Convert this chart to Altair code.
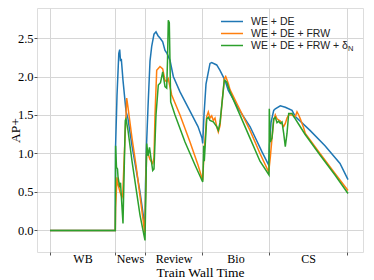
import altair as alt
import pandas as pd

# ---- data (x in "wall time" units, y = AP+) ----
series_names = ["WE + DE", "WE + DE + FRW", "WE + DE + FRW + δ"]
colors = ["#1f77b4", "#ff7f0e", "#2ca02c"]

domains = ["WB", "News", "Review", "Bio", "CS"]
boundaries = [0, 65, 95, 152, 219, 297]

blue_x = [0, 65.3, 65.6, 67, 68.8, 69.7, 70.5, 71.3, 73, 76, 78, 82, 86, 90, 94, 95,
          95.5, 96.5, 98, 100, 101.7, 104, 106, 108, 110, 112.7, 115, 117, 120, 123.3, 130, 140, 148, 152, 152.7,
          154, 156, 160, 161.7, 166.7, 170, 175, 178.3, 190, 200, 212, 218.7,
          219.5, 221, 223.7, 225.3, 230.3, 235.3, 242, 245.3, 260, 275, 290, 298]
blue_y = [0, 0, 1.1, 1.75, 2.3, 2.35, 2.2, 2.23, 1.95, 1.55, 1.45, 1.1, 0.8, 0.5, 0.13, 0.06,
          0.6, 1.1, 1.6, 2.2, 2.39, 2.55, 2.58, 2.53, 2.5, 2.45, 2.34, 2.3, 2.21, 2.0, 1.8, 1.55, 1.35, 1.2, 1.13,
          1.5, 1.9, 2.17, 2.18, 2.15, 2.08, 1.95, 1.82, 1.55, 1.35, 1.02, 0.85,
          1.1, 1.4, 1.56, 1.58, 1.62, 1.60, 1.56, 1.48, 1.3, 1.1, 0.87, 0.66]

orange_x = [0, 65.3, 65.6, 67, 68, 70, 72, 72.7, 75, 76.7, 78, 82, 86, 90, 94.7,
            96, 96.7, 98, 100, 102.7, 104, 105, 106.7, 110, 112.7, 115, 116.7, 118.3, 121.7, 130, 140, 148, 152.7,
            154, 156.7, 158.3, 160, 161.7, 163.3, 165, 166.7, 168.3, 170, 172, 174.3, 175.7, 178.3, 180, 200, 210, 218.7,
            220.3, 222, 223.7, 225.3, 227, 230.3, 233.7, 235.3, 237, 238.7, 242, 245.3, 247, 248.7, 250.3, 253.7,
            255.3, 270, 285, 298]
orange_y = [0, 0, 0.3, 0.69, 0.6, 0.5, 0.43, 0.46, 1.2, 1.72, 1.6, 1.2, 0.85, 0.45, -0.03,
            0.7, 1.04, 1.0, 0.92, 0.87, 0.95, 1.5, 2.08, 2.13, 2.1, 1.95, 1.93, 1.97, 1.76, 1.5, 1.15, 0.85, 0.65,
            1.0, 1.48, 1.54, 1.46, 1.49, 1.43, 1.46, 1.35, 1.28, 1.36, 1.65, 1.97, 2.0, 1.91, 1.83, 1.3, 1.0, 0.76,
            0.95, 1.2, 1.43, 1.5, 1.45, 1.42, 1.35, 1.39, 1.46, 1.5, 1.5, 1.48, 1.54, 1.5, 1.45, 1.33,
            1.26, 1.0, 0.74, 0.52]

green_x = [0, 65.3, 65.6, 66.5, 67.5, 68, 69.7, 70.5, 72, 73, 75.3, 76, 78, 82, 86, 90, 95,
           96, 96.7, 98, 99.5, 101.7, 102.7, 104, 106, 108.3, 110.5, 112.7, 115, 116.7, 117.5, 118.3, 119.3, 120.7,
           125, 135, 145, 152.7,
           153.3, 153.7, 154.3, 156.7, 158.3, 160, 163.3, 166.7, 168.3, 170, 174.3, 176.7, 180, 200, 210, 219,
           219.3, 220.3, 222, 223.7, 225.3, 227, 228.7, 230.3, 232, 233.7, 235.3, 237, 238.7, 242, 243.7, 245.3,
           248.7, 255, 270, 285, 298]
green_y = [0, 0, 1.1, 0.82, 0.8, 0.7, 0.56, 0.62, 0.3, 0.09, 1.43, 1.45, 1.3, 0.9, 0.55, 0.2, -0.13,
           0.6, 1.13, 0.97, 1.08, 0.87, 0.78, 0.8, 1.5, 1.89, 1.92, 2.06, 1.87, 1.85, 2.2, 2.73, 2.7, 1.67,
           1.5, 1.15, 0.85, 0.63,
           0.85, 1.1, 0.9, 1.45, 1.47, 1.43, 1.41, 1.35, 1.3, 1.4, 1.95, 1.93, 1.8, 1.2, 0.9, 0.72,
           1.58, 1.15, 1.2, 1.45, 1.47, 1.4, 1.42, 1.39, 1.41, 1.26, 1.09, 1.26, 1.52, 1.52, 1.48, 1.45,
           1.38, 1.25, 0.98, 0.72, 0.48]

rows = []
for name, xs, ys in zip(series_names, [blue_x, orange_x, green_x], [blue_y, orange_y, green_y]):
    for i, (xv, yv) in enumerate(zip(xs, ys)):
        rows.append({"series": name, "x": xv, "y": yv, "order": i})
df = pd.DataFrame(rows)

mids = [(a + b) / 2 for a, b in zip(boundaries[:-1], boundaries[1:])]
label_expr = " : ".join(
    [f"datum.value == {m} ? '{d}'" for m, d in zip(mids, domains)]) + " : ''"
bound_test = "indexof([" + ",".join(str(b) for b in boundaries) + "], datum.value) >= 0"

serif = "Liberation Serif"
sans = "Liberation Sans"

x_axis = alt.Axis(
    values=boundaries + mids,
    labelExpr=label_expr,
    title="Train Wall Time",
    titleFont=serif, titleFontSize=13.5, titleFontWeight="normal", titleColor="black",
    titlePadding=1,
    labelFont=serif, labelFontSize=12, labelColor="black", labelPadding=-2,
    labelFlush=False, labelOverlap=False,
    tickSize=3, tickColor="#555",
    tickOpacity={"condition": {"test": bound_test, "value": 1}, "value": 0},
    grid=True, gridColor="#d6d6d6", gridWidth=1,
    gridOpacity={"condition": {"test": bound_test, "value": 1}, "value": 0},
    domain=False,
)
y_axis = alt.Axis(
    values=[0, 0.5, 1.0, 1.5, 2.0, 2.5], format=".1f",
    title="AP+",
    titleFont=serif, titleFontSize=13.5, titleFontWeight="normal", titleColor="black",
    titleX=-18, titleBaseline="alphabetic",
    labelFont=serif, labelFontSize=12.5, labelColor="black", labelPadding=1,
    tickSize=3, tickColor="#555",
    grid=True, gridColor="#d6d6d6", gridWidth=1,
    domain=False,
)

lines = alt.Chart(df).mark_line(strokeWidth=1.5, clip=True).encode(
    x=alt.X("x:Q", scale=alt.Scale(domain=[-13, 313], nice=False, zero=False), axis=x_axis),
    y=alt.Y("y:Q", scale=alt.Scale(domain=[-0.28, 2.89], nice=False, zero=False), axis=y_axis),
    color=alt.Color("series:N", scale=alt.Scale(domain=series_names, range=colors), legend=None),
    order="order:Q",
    detail="series:N",
)

# manual legend
leg_layers = []
row_y = [13.5, 25.5, 37.5]
for name, col, ry in zip(series_names, colors, row_y):
    leg_df = pd.DataFrame({"label": [name]})
    leg_layers.append(alt.Chart(leg_df).mark_rule(color=col, strokeWidth=1.5).encode(
        x=alt.value(184), x2=alt.value(206), y=alt.value(ry)))
    leg_layers.append(alt.Chart(leg_df).mark_text(
        align="left", baseline="middle", font=sans, fontSize=10.5, color="#222").encode(
        x=alt.value(214), y=alt.value(ry), text="label:N"))
sub_df = pd.DataFrame({"label": ["N"]})
leg_layers.append(alt.Chart(sub_df).mark_text(
    align="left", baseline="middle", font=sans, fontSize=7.5, color="#222").encode(
    x=alt.value(311), y=alt.value(row_y[2] + 3), text="label:N"))

chart = alt.layer(lines, *leg_layers).properties(
    width=326, height=244,
    padding={"left": 29, "top": 0, "right": 3, "bottom": 28},
    autosize="none",
).configure_view(stroke="#666", strokeWidth=1).configure(background="white")

chart.save("out.html", embed_options={"renderer": "svg", "actions": False})
